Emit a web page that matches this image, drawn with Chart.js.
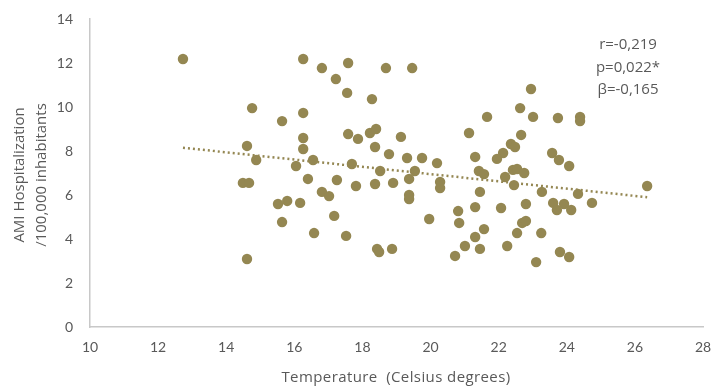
<!DOCTYPE html>
<html>
<head>
<meta charset="utf-8">
<script src="https://cdn.jsdelivr.net/npm/chart.js@4/dist/chart.umd.min.js"></script>
<style>
    html, body { margin: 0; padding: 0; background: #fff; }
    #wrap { width: 711px; height: 387px; }
</style>
</head>
<body>
<div id="wrap"><canvas id="scatterChart" width="711" height="387"></canvas></div>
<script>
// temperature (°C) and AMI hospitalization per 100,000
const temperature = [
    12.73, 14.76, 14.61, 14.88, 14.49, 14.67, 14.61, 15.64, 16.26, 16.26,
    16.26, 16.26, 16.05, 16.55, 16.40, 16.81, 17.22, 17.58, 17.55, 17.58,
    17.87, 17.69, 17.25, 17.81, 16.81, 17.02, 15.52, 15.79, 16.17, 15.64,
    17.17, 16.58, 17.52, 18.69, 19.46, 18.28, 18.22, 18.40, 18.37, 19.13,
    18.78, 19.31, 19.75, 20.19, 18.52, 19.54, 19.37, 18.37, 18.90, 20.28,
    20.28, 19.37, 19.37, 22.95, 22.63, 21.66, 23.01, 23.74, 24.39, 24.39,
    21.13, 22.66, 22.36, 22.48, 22.13, 21.31, 21.95, 23.57, 23.77, 24.07,
    21.42, 21.57, 22.19, 22.42, 22.54, 22.75, 22.45, 21.45, 23.27, 24.33,
    26.36, 23.60, 23.92, 23.71, 24.13, 24.74, 22.80, 22.07, 21.31, 20.81,
    20.84, 21.57, 21.31, 21.01, 21.45, 20.72, 22.25, 22.54, 22.69, 22.80,
    23.25, 23.10, 23.80, 24.07, 19.96, 18.43, 18.49, 18.87
];
const hospitalization = [
    12.18, 9.95, 8.23, 7.59, 6.55, 6.55, 3.09, 9.36, 12.18, 9.73,
    8.59, 8.09, 7.32, 7.59, 6.73, 11.77, 11.27, 12.0, 10.64, 8.77,
    8.55, 7.41, 6.68, 6.41, 6.14, 5.95, 5.59, 5.73, 5.64, 4.77,
    5.05, 4.27, 4.14, 11.77, 11.77, 10.36, 8.82, 9.0, 8.18, 8.64,
    7.86, 7.68, 7.68, 7.45, 7.09, 7.09, 6.73, 6.5, 6.55, 6.59,
    6.32, 6.0, 5.82, 10.82, 9.95, 9.55, 9.55, 9.5, 9.55, 9.36,
    8.82, 8.73, 8.32, 8.18, 7.91, 7.73, 7.64, 7.91, 7.59, 7.32,
    7.09, 6.95, 6.82, 7.14, 7.18, 7.0, 6.45, 6.14, 6.14, 6.05,
    6.41, 5.64, 5.59, 5.32, 5.32, 5.64, 5.59, 5.41, 5.45, 5.27,
    4.73, 4.45, 4.09, 3.68, 3.55, 3.23, 3.68, 4.27, 4.73, 4.82,
    4.27, 2.95, 3.41, 3.18, 4.91, 3.55, 3.41, 3.55
];

// linear trend line ends
const trendX = [12.73, 26.36];
const trendY = [8.15, 5.9];

const statLines = ['r=-0,219', 'p=0,022*', 'β=-0,165'];
const xTitle = 'Temperature  (Celsius degrees)';
const yTitle = ['AMI Hospitalization', '/100,000 inhabitants'];

const xTicks = [10, 12, 14, 16, 18, 20, 22, 24, 26, 28];
const yTicks = [0, 2, 4, 6, 8, 10, 12, 14];

const OLIVE = '#948752';
const GRIS = '#595959';
const FUENTE = 'Lato, "Open Sans", sans-serif';
const FUENTE_TIT = '"Open Sans", Lato, sans-serif';

const puntos = temperature.map((t, i) => ({ x: t, y: hospitalization[i] }));
const tendencia = trendX.map((t, i) => ({ x: t, y: trendY[i] }));

// titulos de ejes y texto de estadisticas
const textos = {
    id: 'textos',
    afterDraw(chart) {
        const ctx = chart.ctx;
        const area = chart.chartArea;
        ctx.save();
        ctx.fillStyle = GRIS;
        ctx.textAlign = 'center';
        ctx.textBaseline = 'middle';

        ctx.font = '15px ' + FUENTE_TIT;
        statLines.forEach((linea, i) => {
            ctx.fillText(linea, 628, 45 + i * 22.5);
        });

        ctx.letterSpacing = '0.4px';
        ctx.fillText(xTitle, 396, 378);
        ctx.letterSpacing = '0px';

        const cy = (area.top + area.bottom) / 2;
        yTitle.forEach((linea, i) => {
            ctx.save();
            ctx.translate(20 + i * 22, cy + 2);
            ctx.rotate(-Math.PI / 2);
            ctx.fillText(linea, 0, 0);
            ctx.restore();
        });
        ctx.restore();
    }
};

new Chart(document.getElementById('scatterChart').getContext('2d'), {
    type: 'scatter',
    data: {
        datasets: [
            {
                label: 'Trend',
                type: 'line',
                data: tendencia,
                borderColor: OLIVE,
                borderWidth: 2.5,
                borderDash: [2, 3],
                pointRadius: 0,
                fill: false
            },
            {
                label: 'AMI',
                data: puntos,
                backgroundColor: OLIVE,
                borderColor: OLIVE,
                pointRadius: 5.2,
                borderWidth: 0
            }
        ]
    },
    options: {
        responsive: false,
        animation: false,
        layout: { padding: { left: 0, right: 8, top: 19, bottom: 0 } },
        plugins: {
            legend: { display: false },
            tooltip: { enabled: false }
        },
        scales: {
            x: {
                type: 'linear',
                min: 10,
                max: 28,
                afterBuildTicks: (scale) => { scale.ticks = xTicks.map(v => ({ value: v })); },
                afterFit: (scale) => {
                    scale.height = 60;
                    scale.paddingLeft = 0;
                    scale.paddingRight = 0;
                },
                grid: { display: false, drawTicks: false },
                border: { display: true, color: '#c8c8c8', width: 1.5 },
                ticks: { color: GRIS, font: { family: FUENTE, size: 14 }, padding: 12 }
            },
            y: {
                min: 0,
                max: 14,
                afterBuildTicks: (scale) => { scale.ticks = yTicks.map(v => ({ value: v })); },
                afterFit: (scale) => {
                    scale.width = 90;
                    scale.paddingTop = 0;
                    scale.paddingBottom = 0;
                },
                grid: { display: false, drawTicks: false },
                border: { display: true, color: '#c8c8c8', width: 1.5 },
                ticks: { color: GRIS, font: { family: FUENTE, size: 14 }, padding: 17 }
            }
        }
    },
    plugins: [textos]
});
</script>
</body>
</html>
